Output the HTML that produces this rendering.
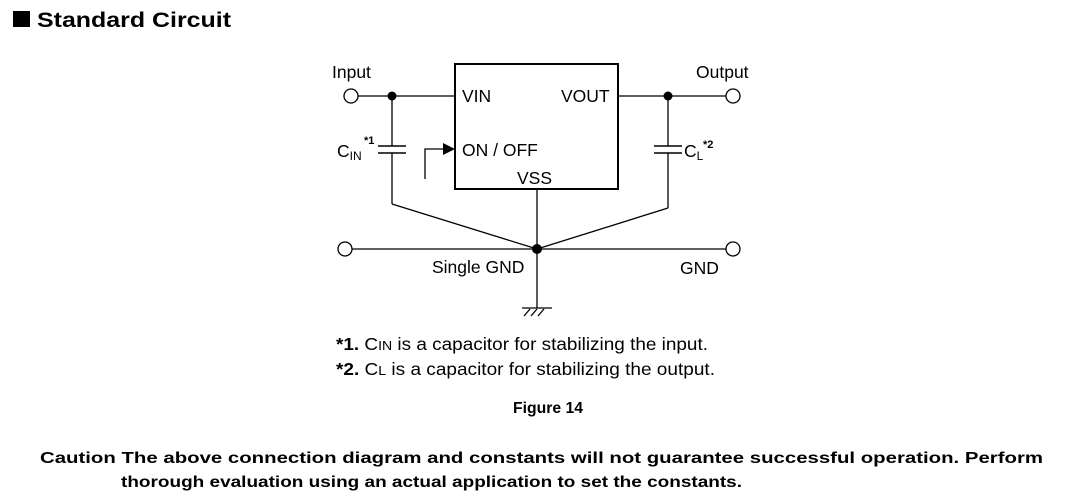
<!DOCTYPE html>
<html><head><style>
body{margin:0;background:#fff;}
svg{display:block;font-family:"Liberation Sans",Arial,sans-serif;}
</style></head><body>
<svg width="1073" height="499" viewBox="0 0 1073 499" xmlns="http://www.w3.org/2000/svg">
<rect x="13" y="11" width="17" height="16" fill="#000"/>
<text x="37" y="27" font-size="21" font-weight="bold" textLength="194" lengthAdjust="spacingAndGlyphs">Standard Circuit</text>
<g stroke="#000" stroke-width="1.3" fill="none">
<rect x="455" y="64" width="163" height="125" stroke-width="2"/>
<line x1="358" y1="96" x2="455" y2="96"/>
<line x1="618" y1="96" x2="726" y2="96"/>
<circle cx="351" cy="96" r="7" fill="#fff"/>
<circle cx="733" cy="96" r="7" fill="#fff"/>
<line x1="392" y1="96" x2="392" y2="146"/>
<line x1="392" y1="153" x2="392" y2="204"/>
<line x1="378" y1="146" x2="406" y2="146" stroke-width="1.6"/>
<line x1="378" y1="153" x2="406" y2="153" stroke-width="1.6"/>
<line x1="392" y1="204" x2="537" y2="249"/>
<line x1="668" y1="96" x2="668" y2="146"/>
<line x1="668" y1="153" x2="668" y2="208"/>
<line x1="654" y1="146" x2="682" y2="146" stroke-width="1.6"/>
<line x1="654" y1="153" x2="682" y2="153" stroke-width="1.6"/>
<line x1="668" y1="208" x2="537" y2="249"/>
<line x1="352" y1="249" x2="726" y2="249"/>
<circle cx="345" cy="249" r="7" fill="#fff"/>
<circle cx="733" cy="249" r="7" fill="#fff"/>
<line x1="537" y1="189" x2="537" y2="308"/>
<line x1="522" y1="308" x2="552" y2="308"/>
<line x1="524" y1="316" x2="530" y2="309"/>
<line x1="531" y1="316" x2="537" y2="309"/>
<line x1="538" y1="316" x2="544" y2="309"/>
<polyline points="425,179 425,149 446,149"/>
</g>
<polygon points="443,143 455,149 443,155" fill="#000"/>
<circle cx="392" cy="96" r="4.5" fill="#000"/>
<circle cx="668" cy="96" r="4.5" fill="#000"/>
<circle cx="537" cy="249" r="5" fill="#000"/>
<g font-size="17.5">
<text x="332" y="78">Input</text>
<text x="696" y="78">Output</text>
<text x="462" y="102">VIN</text>
<text x="561" y="102">VOUT</text>
<text x="462" y="156">ON / OFF</text>
<text x="517" y="184">VSS</text>
<text x="337" y="157">C<tspan font-size="12" dy="3">IN</tspan></text>
<text x="364" y="144" font-size="11" font-weight="bold">*1</text>
<text x="684" y="157">C<tspan font-size="12" dy="3">L</tspan></text>
<text x="703" y="148" font-size="11" font-weight="bold">*2</text>
<text x="432" y="273">Single GND</text>
<text x="680" y="274">GND</text>
<text x="336" y="350" textLength="372" lengthAdjust="spacingAndGlyphs"><tspan font-weight="bold">*1.</tspan> C<tspan font-size="13">IN</tspan> is a capacitor for stabilizing the input.</text>
<text x="336" y="375" textLength="379" lengthAdjust="spacingAndGlyphs"><tspan font-weight="bold">*2.</tspan> C<tspan font-size="13">L</tspan> is a capacitor for stabilizing the output.</text>
<text x="513" y="413" font-size="16" font-weight="bold" textLength="70" lengthAdjust="spacingAndGlyphs">Figure 14</text>
<text x="40" y="463" font-size="16" font-weight="bold" textLength="1003" lengthAdjust="spacingAndGlyphs">Caution The above connection diagram and constants will not guarantee successful operation. Perform</text>
<text x="121" y="487" font-size="16" font-weight="bold" textLength="621" lengthAdjust="spacingAndGlyphs">thorough evaluation using an actual application to set the constants.</text>
</g>
</svg>
</body></html>
